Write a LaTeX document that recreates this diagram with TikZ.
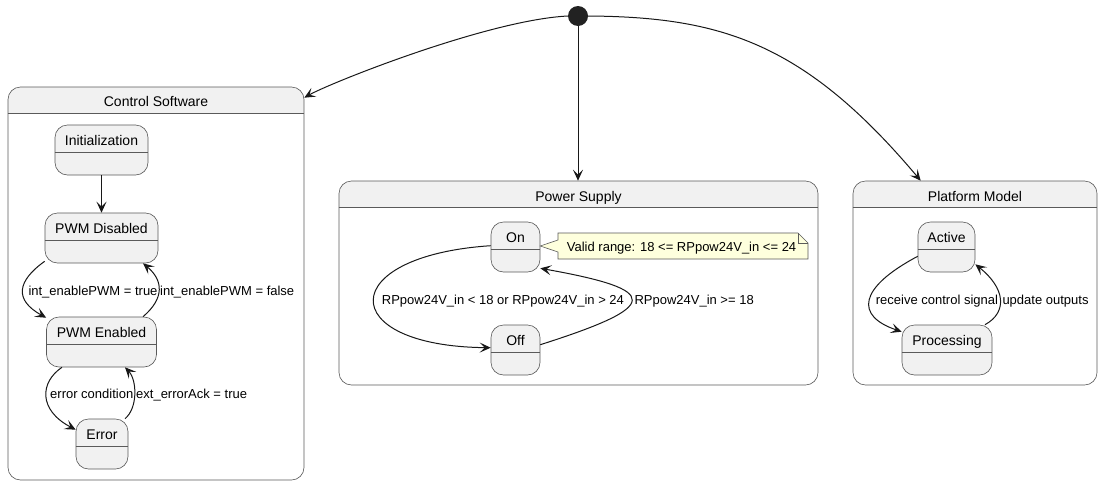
\documentclass[tikz,border=0pt]{standalone}
\usepackage{fontspec}
\setmainfont{Liberation Sans}
\usetikzlibrary{arrows.meta}
\definecolor{stfill}{HTML}{F1F1F1}
\definecolor{stline}{HTML}{5A5A5A}
\definecolor{arrc}{HTML}{181818}
\definecolor{notefill}{HTML}{FEFFDD}
\definecolor{dotc}{HTML}{222222}
\newcommand\mkstate[5]{% name, center x, top y, width, text
  \node[st, minimum width=#4pt] (#1) at (#2,#3+25) {};
  \draw[divl] ([yshift=-28pt]#1.north west) -- ([yshift=-28pt]#1.north east);
  \node[sname, anchor=base] (#1t) at (#2,#3+20) {#5};
}
\newcommand\mkcomp[7]{% name, center x, center y, width, height, title, title baseline y
  \node[comp, minimum width=#4pt, minimum height=#5pt] (#1) at (#2,#3) {};
  \draw[divl] ([yshift=-26.5pt]#1.north west) -- ([yshift=-26.5pt]#1.north east);
  \node[sname, anchor=base] (#1t) at (#2,#7) {#6};
}
\begin{document}
\begin{tikzpicture}[x=1pt,y=-1pt,
  st/.style={draw=stline, line width=0.6pt, fill=stfill, rounded corners=12.5pt, minimum height=50pt, inner sep=0pt},
  comp/.style={draw=stline, line width=0.6pt, fill=white, rounded corners=12.5pt, inner sep=0pt,
    path picture={\fill[stfill, sharp corners] (path picture bounding box.north west) rectangle ([yshift=-26.5pt]path picture bounding box.north east);}},
  divl/.style={draw=stline, line width=0.6pt},
  sname/.style={font=\fontsize{14}{16}\selectfont, inner sep=0pt, text=black},
  elbl/.style={font=\fontsize{13}{15}\selectfont, inner sep=0pt, text=black, anchor=base west},
  tr/.style={draw=arrc, line width=1pt, -{Stealth[length=11pt,width=10pt,inset=5pt]}},
]
\useasboundingbox (0,0) rectangle (1103,485);

% composite states
\mkcomp{cs}{156}{283.5}{296}{393}{Control Software}{106.5}
\mkcomp{ps}{578.5}{283}{479}{204}{Power Supply}{201}
\mkcomp{pm}{975}{283}{244}{204}{Platform Model}{201}

% initial pseudo state
\node[circle, fill=dotc, minimum size=20pt, inner sep=0pt] (ic) at (578,16) {};

% Control Software states
\mkstate{init}{101.5}{125}{93}{Initialization}
\mkstate{dis}{101.5}{213}{113}{PWM Disabled}
\mkstate{en}{101.5}{317}{110}{PWM Enabled}
\mkstate{err}{102}{419}{52}{Error}

% Power Supply states
\mkstate{on}{515.5}{222}{49}{On}
\mkstate{off}{515.5}{325}{49}{Off}

% Platform Model states
\mkstate{act}{946.5}{222}{57}{Active}
\mkstate{proc}{947}{325}{90}{Processing}

% note
\draw[draw=stline, line width=0.6pt, fill=notefill] (558,233) -- (798,233) -- (808,243) -- (808,259) -- (558,259) -- (558,252) -- (on.east |- 0,246) -- (558,240) -- cycle;
\draw[draw=stline, line width=0.6pt] (798,233) -- (798,243) -- (808,243);
\node[elbl] (note) at (566.7,251.7) {Valid range: 18 <= RPpow24V\_in <= 24};

% initial transitions
\draw[tr] (ic.west) .. controls (488,20) and (330,83) .. ([yshift=-11pt]cs.north east);
\draw[tr] (ic.south) -- (ic.south |- ps.north);
\draw[tr] (ic.east) .. controls (720,17) and (804,42) .. ([xshift=68pt]pm.north west);

% Control Software transitions
\draw[tr] (init.south) -- (dis.north);
\draw[tr] ([yshift=2pt]dis.south west) .. controls (17,281) and (14,300) .. ([yshift=-1pt]en.north west);
\draw[tr] ([xshift=41.5pt]en.north) .. controls (165,298) and (163,280) .. ([xshift=41.5pt]dis.south);
\draw[tr] ([xshift=-39.5pt]en.south) .. controls (40,382) and (38,410) .. ([yshift=-11pt]err.north west);
\draw[tr] ([xshift=23pt]err.north) .. controls (138,408) and (137,380) .. ([xshift=23.5pt]en.south);
\node[elbl] (l1) at (28.3,295) {int\_enablePWM = true};
\node[elbl] (l2) at (160,295) {int\_enablePWM = false};
\node[elbl] (l3) at (50,398.3) {error condition};
\node[elbl] (l4) at (136,398.3) {ext\_errorAck = true};

% Power Supply transitions
\draw[tr] ([yshift=-24pt]on.north west) .. controls (335,256) and (335,346) .. ([yshift=-23pt]off.north west);
\draw[tr] ([yshift=-20pt]off.north east) .. controls (662,306) and (662,290) .. ([yshift=4pt]on.south east);
\node[elbl] (l5) at (381.7,304.3) {RPpow24V\_in < 18 or RPpow24V\_in > 24};
\node[elbl] (l6) at (634.3,304.3) {RPpow24V\_in >= 18};

% Platform Model transitions
\draw[tr] ([yshift=16pt]act.south west) .. controls (858,288) and (855,316) .. ([yshift=-7pt]proc.north west);
\draw[tr] ([xshift=38pt]proc.north) .. controls (1008,312) and (1005,288) .. ([yshift=8pt]act.south east);
\node[elbl] (l7) at (875.7,304.3) {receive control signal};
\node[elbl] (l8) at (1002.3,304.3) {update outputs};
\end{tikzpicture}
\end{document}
